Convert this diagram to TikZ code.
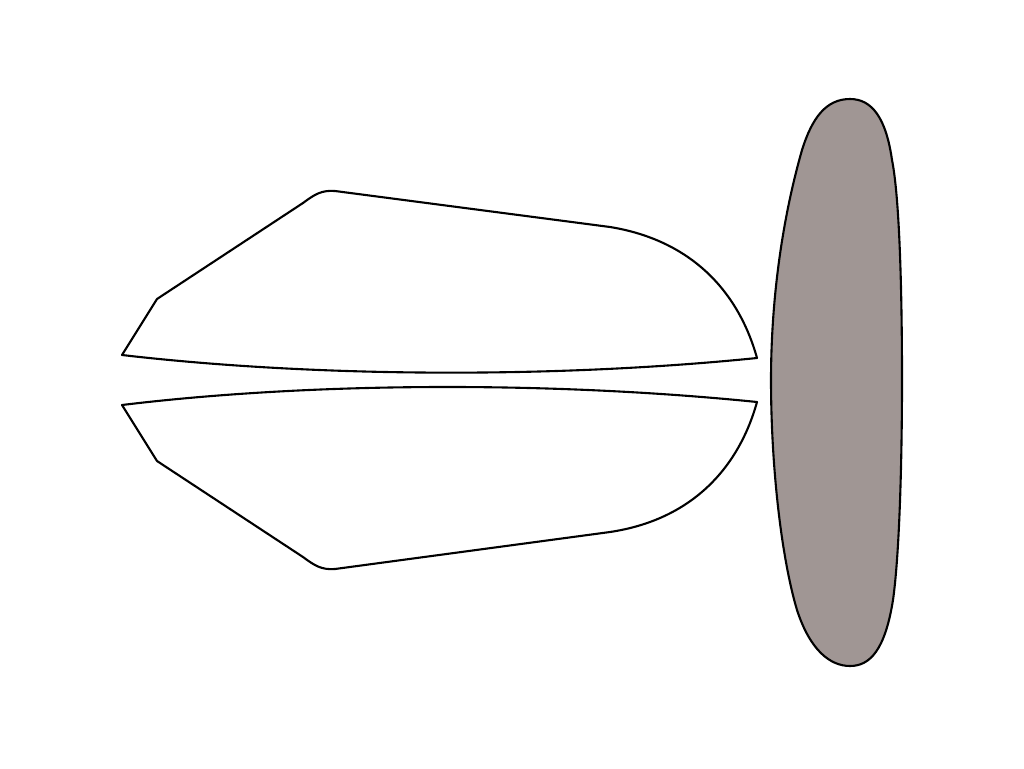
\documentclass[tikz,border=0pt]{standalone}
\definecolor{stonegray}{RGB}{160,150,148}
\tikzset{outline/.style={draw=black,line width=2.1pt,line join=round}}
\begin{document}
\begin{tikzpicture}[x=1pt,y=-1pt]
\useasboundingbox (0,0) rectangle (1024,768);
% upper shape
\draw[outline,fill=white] (122,355) -- (157,299) -- (303,203)
  .. controls (315,194) and (322,190) .. (335,191)
  -- (610,227) .. controls (690,240) and (738,290) .. (757,358)
  .. controls (560,378) and (320,378) .. (122,355) -- cycle;
% lower shape
\draw[outline,fill=white] (122,405) -- (157,461) -- (303,557)
  .. controls (315,566) and (322,570) .. (335,569)
  -- (610,532) .. controls (690,520) and (738,470) .. (757,402)
  .. controls (560,382) and (320,381) .. (122,405) -- cycle;
% right pebble
\draw[outline,fill=stonegray] (850,99) .. controls (826,99) and (812,118) .. (802,150)
  .. controls (782,220) and (771,300) .. (771,380)
  .. controls (771,470) and (782,560) .. (797,610)
  .. controls (810,650) and (830,666) .. (850,666)
  .. controls (870,666) and (885,650) .. (893,600)
  .. controls (900,550) and (902,450) .. (902,380)
  .. controls (902,300) and (900,200) .. (892,160)
  .. controls (886,118) and (872,99) .. (850,99) -- cycle;
\end{tikzpicture}
\end{document}
